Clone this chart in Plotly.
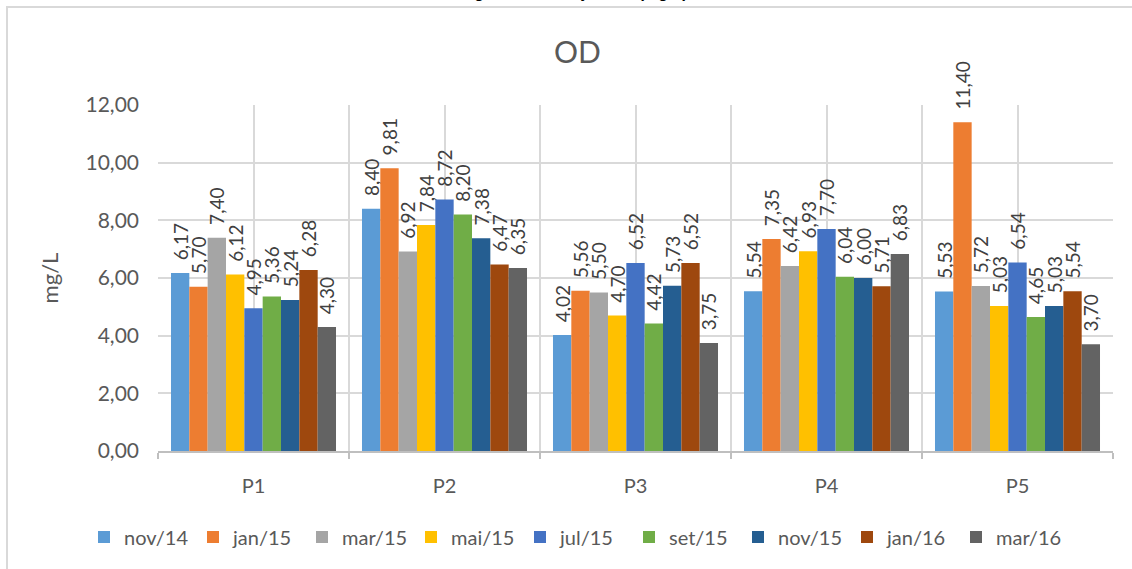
import plotly.graph_objects as go

categories = ["P1", "P2", "P3", "P4", "P5"]
series_names = ["nov/14", "jan/15", "mar/15", "mai/15", "jul/15", "set/15", "nov/15", "jan/16", "mar/16"]

nov_14 = [6.17, 8.40, 4.02, 5.54, 5.53]
jan_15 = [5.70, 9.81, 5.56, 7.35, 11.40]
mar_15 = [7.40, 6.92, 5.50, 6.42, 5.72]
mai_15 = [6.12, 7.84, 4.70, 6.93, 5.03]
jul_15 = [4.95, 8.72, 6.52, 7.70, 6.54]
set_15 = [5.36, 8.20, 4.42, 6.04, 4.65]
nov_15 = [5.24, 7.38, 5.73, 6.00, 5.03]
jan_16 = [6.28, 6.47, 6.52, 5.71, 5.54]
mar_16 = [4.30, 6.35, 3.75, 6.83, 3.70]

series_values = [nov_14, jan_15, mar_15, mai_15, jul_15, set_15, nov_15, jan_16, mar_16]
colors = ["#5B9BD5", "#ED7D31", "#A5A5A5", "#FFC000", "#4472C4",
          "#70AD47", "#255E91", "#9E480E", "#636363"]

y_ticks = [0, 2, 4, 6, 8, 10, 12]

FONT = "Lato"
TXT = "#595959"
NBSP = "\u00a0"

x_idx = list(range(len(categories)))
boundaries = [i - 0.5 for i in range(len(categories) + 1)]

fig = go.Figure()
for name, vals, col in zip(series_names, series_values, colors):
    fig.add_trace(go.Bar(
        x=x_idx, y=vals, name=name, marker=dict(color=col, line=dict(width=0)),
        texttemplate=NBSP * 2 + "%{y:.2f}", textposition="outside", textangle=-90,
        textfont=dict(family=FONT, size=19, color="#404040"),
        constraintext="none", cliponaxis=False,
    ))

W, H = 1132, 569
L, R, T, B = 158, 19, 105, 118
pw, ph = W - L - R, H - T - B

def px_x(x):
    return (x - L) / pw

def px_y(y):
    return (H - B - y) / ph

fig.update_layout(
    width=W, height=H,
    margin=dict(l=L, r=R, t=T, b=B, pad=0, autoexpand=False),
    paper_bgcolor="white", plot_bgcolor="white",
    separators=",.",
    barmode="group", bargap=0.136, bargroupgap=0,
    font=dict(family=FONT, color=TXT),
    title=dict(text="OD", x=0.51, xanchor="center", y=1 - 52 / H, yanchor="middle",
               font=dict(family=FONT, size=30, color=TXT)),
    legend=dict(orientation="h", x=px_x(84), xanchor="left",
                y=px_y(537), yanchor="middle",
                font=dict(family=FONT, size=20, color=TXT), traceorder="normal",
                itemwidth=30, entrywidth=64, entrywidthmode="pixels",
                bgcolor="rgba(0,0,0,0)"),
    xaxis=dict(
        range=[-0.5, len(categories) - 0.5],
        tickvals=x_idx, ticktext=categories,
        showgrid=True, gridcolor="#d9d9d9", gridwidth=1.5,
        ticks="", showline=True, linecolor="#bfbfbf", linewidth=1.5,
        tickfont=dict(family=FONT, size=20, color=TXT),
        ticklabelstandoff=16,
        minor=dict(tickvals=boundaries, showgrid=True, gridcolor="#d9d9d9", gridwidth=1.5,
                   ticks="outside", ticklen=6, tickcolor="#bfbfbf", tickwidth=1.5),
        zeroline=False, fixedrange=True,
    ),
    yaxis=dict(
        range=[0, 12], tickvals=y_ticks, tickformat=".2f",
        showgrid=True, gridcolor="#d9d9d9", gridwidth=1.5,
        zeroline=False, showline=False, ticks="",
        tickfont=dict(family=FONT, size=21, color=TXT),
        ticklabelstandoff=18,
        title=dict(text="mg/L", font=dict(family=FONT, size=22, color=TXT), standoff=20),
        fixedrange=True,
    ),
    shapes=[
        dict(type="rect", xref="paper", yref="paper",
             x0=px_x(7), x1=px_x(W + 20), y0=px_y(H + 20), y1=px_y(7),
             line=dict(color="#d9d9d9", width=2), fillcolor="rgba(0,0,0,0)", layer="below"),
    ],
    annotations=[
        dict(text="<b>Figura 4 – Variação OD (mg/L)</b>", xref="paper", yref="paper",
             x=px_x(574), y=px_y(-8), xanchor="center", yanchor="middle", showarrow=False,
             font=dict(family="Liberation Sans", size=16, color="black")),
    ],
)

fig.write_html("out.html", config={"displayModeBar": False},
               post_script="document.body.style.margin='0';")
